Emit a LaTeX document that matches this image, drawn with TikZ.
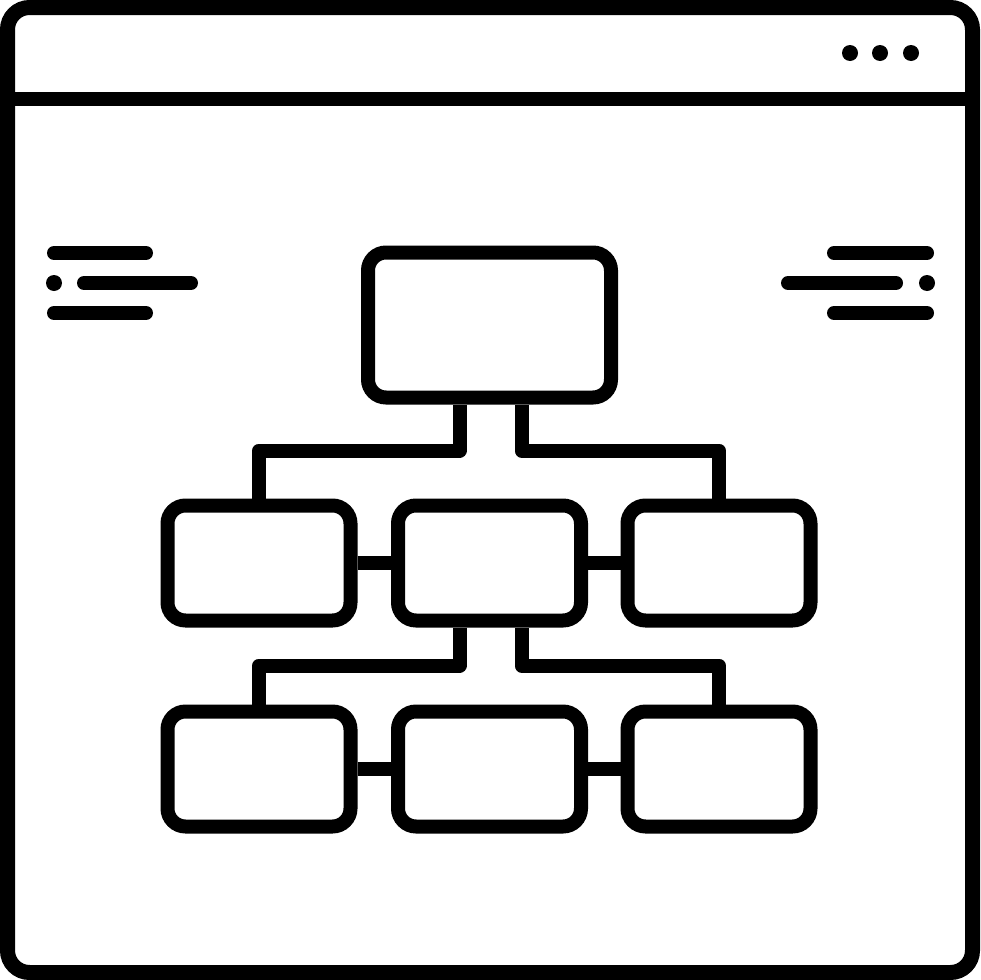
\documentclass[tikz,border=0pt]{standalone}
\usepackage{tikz}
\usetikzlibrary{positioning,calc}
\tikzstyle{blk} = [draw=black, line width=14pt, rounded corners=18pt, inner sep=0pt, minimum width=183pt, minimum height=115pt]
\tikzstyle{link} = [black, line width=14pt, line join=round]
\tikzstyle{txt} = [black, line width=14pt, line cap=round]
\begin{document}
\begin{tikzpicture}[x=1pt, y=-1pt]
\useasboundingbox (0,0) rectangle (980,980);

% window
\draw[black, line width=15pt, rounded corners=22pt] (7.5,7.5) rectangle (972.5,972.5);
\draw[black, line width=14pt] (7.5,99) -- (972.5,99);
\fill[black] (850,53) circle (8);
\fill[black] (880,53) circle (8);
\fill[black] (911,53) circle (8);

% side text lines
\draw[txt] (54,253) -- (146,253);
\fill[black] (54,283) circle (8);
\draw[txt] (84,283) -- (191,283);
\draw[txt] (54,313) -- (146,313);
\draw[txt] (834,253) -- (927,253);
\draw[txt] (788,283) -- (896,283);
\fill[black] (927,283) circle (8);
\draw[txt] (834,313) -- (927,313);

% chart
\node[blk, minimum width=243pt, minimum height=145pt] (top) at (489.5,325) {};
\node[blk] (m1) at (259,563) {};
\node[blk] (m2) at (489.5,563) {};
\node[blk] (m3) at (719,563) {};
\node[blk] (b1) at (259,769) {};
\node[blk] (b2) at (489.5,769) {};
\node[blk] (b3) at (719,769) {};

\draw[link] ([xshift=-30pt]top.south) -- ++(0,46) -| (m1.north);
\draw[link] ([xshift=32pt]top.south) -- ++(0,46) -| (m3.north);
\draw[link] ([xshift=-30pt]m2.south) -- ++(0,38) -| (b1.north);
\draw[link] ([xshift=32pt]m2.south) -- ++(0,38) -| (b3.north);
\draw[link] (m1.east) -- (m2.west);
\draw[link] (m2.east) -- (m3.west);
\draw[link] (b1.east) -- (b2.west);
\draw[link] (b2.east) -- (b3.west);
\end{tikzpicture}
\end{document}
